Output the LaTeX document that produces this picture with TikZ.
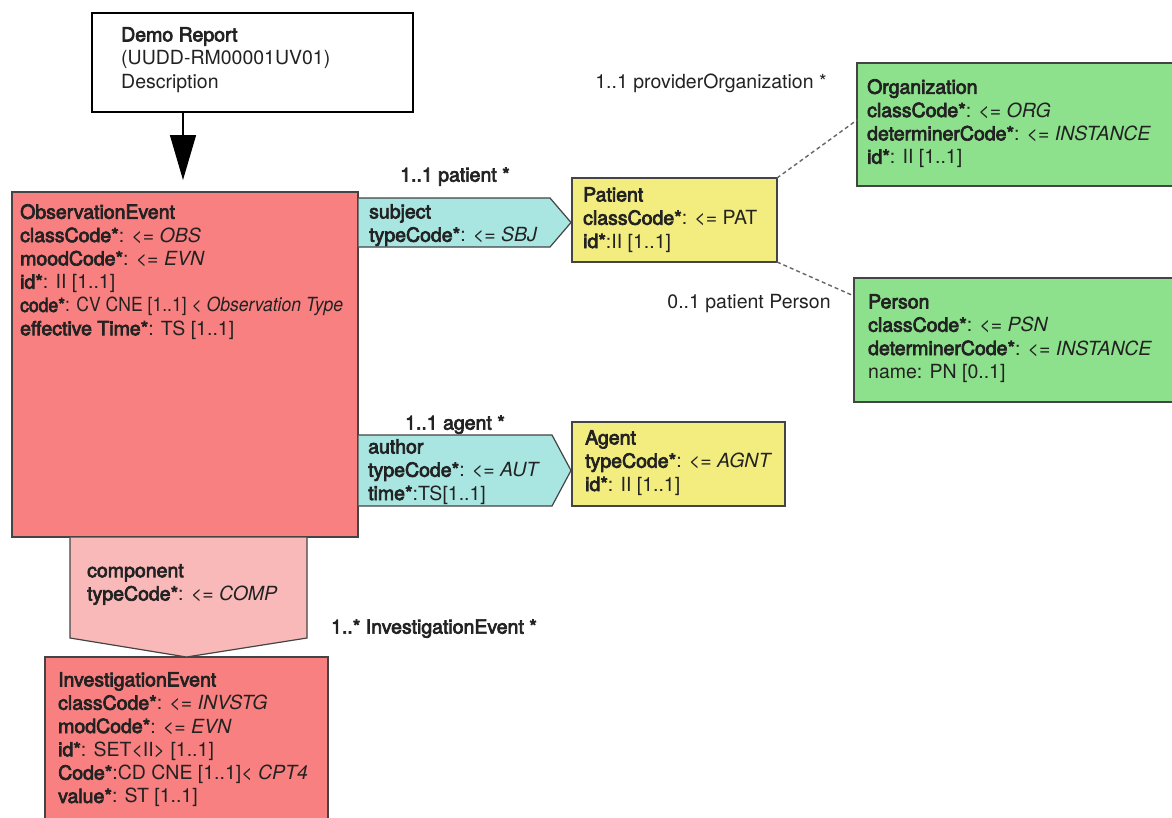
\documentclass[tikz,border=0pt]{standalone}
\usepackage{fontspec}
\setmainfont{TeX Gyre Heros}
\newfontfamily\fbold{TeX Gyre Heros}[FakeBold=3.5]
\newcommand\bx[1]{{\fbold #1}}
\usetikzlibrary{arrows.meta,calc}
\definecolor{obsred}{HTML}{F98080}
\definecolor{comppink}{HTML}{F9B9B9}
\definecolor{assoccyan}{HTML}{A9E6E1}
\definecolor{entyellow}{HTML}{F3ED7F}
\definecolor{rolegreen}{HTML}{8DE08C}
\definecolor{edgecol}{HTML}{444444}
\definecolor{ink}{HTML}{222222}
\begin{document}
\begin{tikzpicture}[x=1pt,y=-1pt,
  box/.style={draw=edgecol, line width=1.2pt, anchor=north west, inner sep=0pt, outer sep=0pt},
  assoc/.style={draw=edgecol, line width=1.2pt, line join=miter},
  txt/.style={anchor=north west, inner sep=0pt, align=left, text=ink, font=\fontsize{19.5}{23.3}\selectfont},
  lbl/.style={anchor=base, inner sep=0pt, text=ink, font=\fontsize{19.5}{22}\selectfont},
  dashcon/.style={draw=black!60, dash pattern=on 4pt off 3pt, line width=1.4pt},
  bigarrow/.style={draw=black, line width=1.5pt, -{Triangle[width=26pt,length=45pt]}},
]
\useasboundingbox (0,0) rectangle (1172,817);
\clip (0,0) rectangle (1172,817);

% --- class boxes ---
\node[box, fill=white, draw=black, minimum width=321pt, minimum height=99pt] (demo) at (92,13) {};
\node[box, fill=obsred, minimum width=346pt, minimum height=345pt] (oe) at (12,192) {};
\node[box, fill=entyellow, minimum width=205pt, minimum height=84pt] (patient) at (572,178) {};
\node[box, fill=entyellow, minimum width=213pt, minimum height=84pt] (agent) at (572,422) {};
\node[box, fill=rolegreen, minimum width=330pt, minimum height=123pt] (org) at (857,63) {};
\node[box, fill=rolegreen, minimum width=330pt, minimum height=124pt] (person) at (854,278) {};
\node[box, fill=obsred, minimum width=283pt, minimum height=175pt] (ie) at (45,657) {};

% --- association shapes ---
\coordinate (subjtip) at (571,222.5);
\coordinate (authtip) at (571,470.5);
\fill[assoccyan] ($(oe.north east)+(0.6,6)$) -- ++(191.4,0) -- (subjtip) -- ($(oe.north east)+(192,55)$) -- ($(oe.north east)+(0.6,55)$) -- cycle;
\draw[assoc] ($(oe.north east)+(0.6,6)$) -- ++(191.4,0) -- (subjtip) -- ($(oe.north east)+(192,55)$) -- ($(oe.north east)+(0.6,55)$);
\fill[assoccyan] ($(oe.north east)+(0.6,243)$) -- ++(193.4,0) -- (authtip) -- ($(oe.north east)+(194,314)$) -- ($(oe.north east)+(0.6,314)$) -- cycle;
\draw[assoc] ($(oe.north east)+(0.6,243)$) -- ++(193.4,0) -- (authtip) -- ($(oe.north east)+(194,314)$) -- ($(oe.north east)+(0.6,314)$);

\coordinate (compL) at (70,537.6);
\coordinate (compR) at (307,537.6);
\fill[comppink] (compL) -- (compR) -- (307,638) -- (ie.north) -- (70,638) -- cycle;
\draw[assoc] (compR) -- (307,638) -- (ie.north) -- (70,638) -- (compL);

% --- big arrow ---
\coordinate (tipc) at (183,180);
\draw[bigarrow] (demo.south -| tipc) -- (tipc);

% --- dashed connectors ---
\draw[dashcon] (patient.north east) -- ($(org.north west)+(0,57)$);
\draw[dashcon] (patient.south east) -- ($(person.north west)+(0,18)$);

% --- texts ---
\node[txt] (demotxt) at (121,27) {\bx{Demo Report}\\(UUDD-RM00001UV01)\\Description};
\node[txt] (oetxt) at (20,204) {\bx{ObservationEvent}\\
\bx{classCode*}: <= \textit{OBS}\\
\bx{moodCode*}: <= \textit{EVN}\\
\bx{id*}: II [1..1]\\
\scalebox{0.9}[1]{\bx{code*}: CV CNE [1..1] < \textit{Observation Type}}\\
\bx{effective Time*}: TS [1..1]};
\node[txt] (subjtxt) at (369,204) {\bx{subject}\\\bx{typeCode*}: <= \textit{SBJ}};
\node[txt] (pattxt) at (583,187) {\bx{Patient}\\\bx{classCode*}: <= PAT\\\bx{id*}:II [1..1]};
\node[txt] (authtxt) at (368,439) {\bx{author}\\\bx{typeCode*}: <= \textit{AUT}\\\bx{time*}:TS[1..1]};
\node[txt] (agenttxt) at (585,430) {\bx{Agent}\\\bx{typeCode*}: <= \textit{AGNT}\\\bx{id*}: II [1..1]};
\node[txt] (orgtxt) at (867,79) {\bx{Organization}\\\bx{classCode*}: <= \textit{ORG}\\\bx{determinerCode*}: <= \textit{INSTANCE}\\\bx{id*}: II [1..1]};
\node[txt] (persontxt) at (868,294) {\bx{Person}\\\bx{classCode*}: <= \textit{PSN}\\\bx{determinerCode*}: <= \textit{INSTANCE}\\name: PN [0..1]};
\node[txt] (comptxt) at (87,564) {\bx{component}\\\bx{typeCode*}: <= \textit{COMP}};
\node[txt] (ietxt) at (58,672) {\bx{InvestigationEvent}\\
\bx{classCode*}: <= \textit{INVSTG}\\
\bx{modCode*}: <= \textit{EVN}\\
\bx{id*}: SET<II> [1..1]\\
\bx{Code*}:CD CNE [1..1]< \textit{CPT4}\\
\bx{value*}: ST [1..1]};

% --- role labels ---
\node[lbl] (lpat) at (455,181.6) {\bx{1..1 patient *}};
\node[lbl] (lagt) at (455,429.6) {\bx{1..1 agent *}};
\node[lbl] (lie) at (434,633.6) {\bx{1..* InvestigationEvent *}};
\node[lbl] (lorg) at (711,88.6) {1..1 providerOrganization *};
\node[lbl] (lper) at (749,308.6) {0..1 patient Person};
\end{tikzpicture}
\end{document}
